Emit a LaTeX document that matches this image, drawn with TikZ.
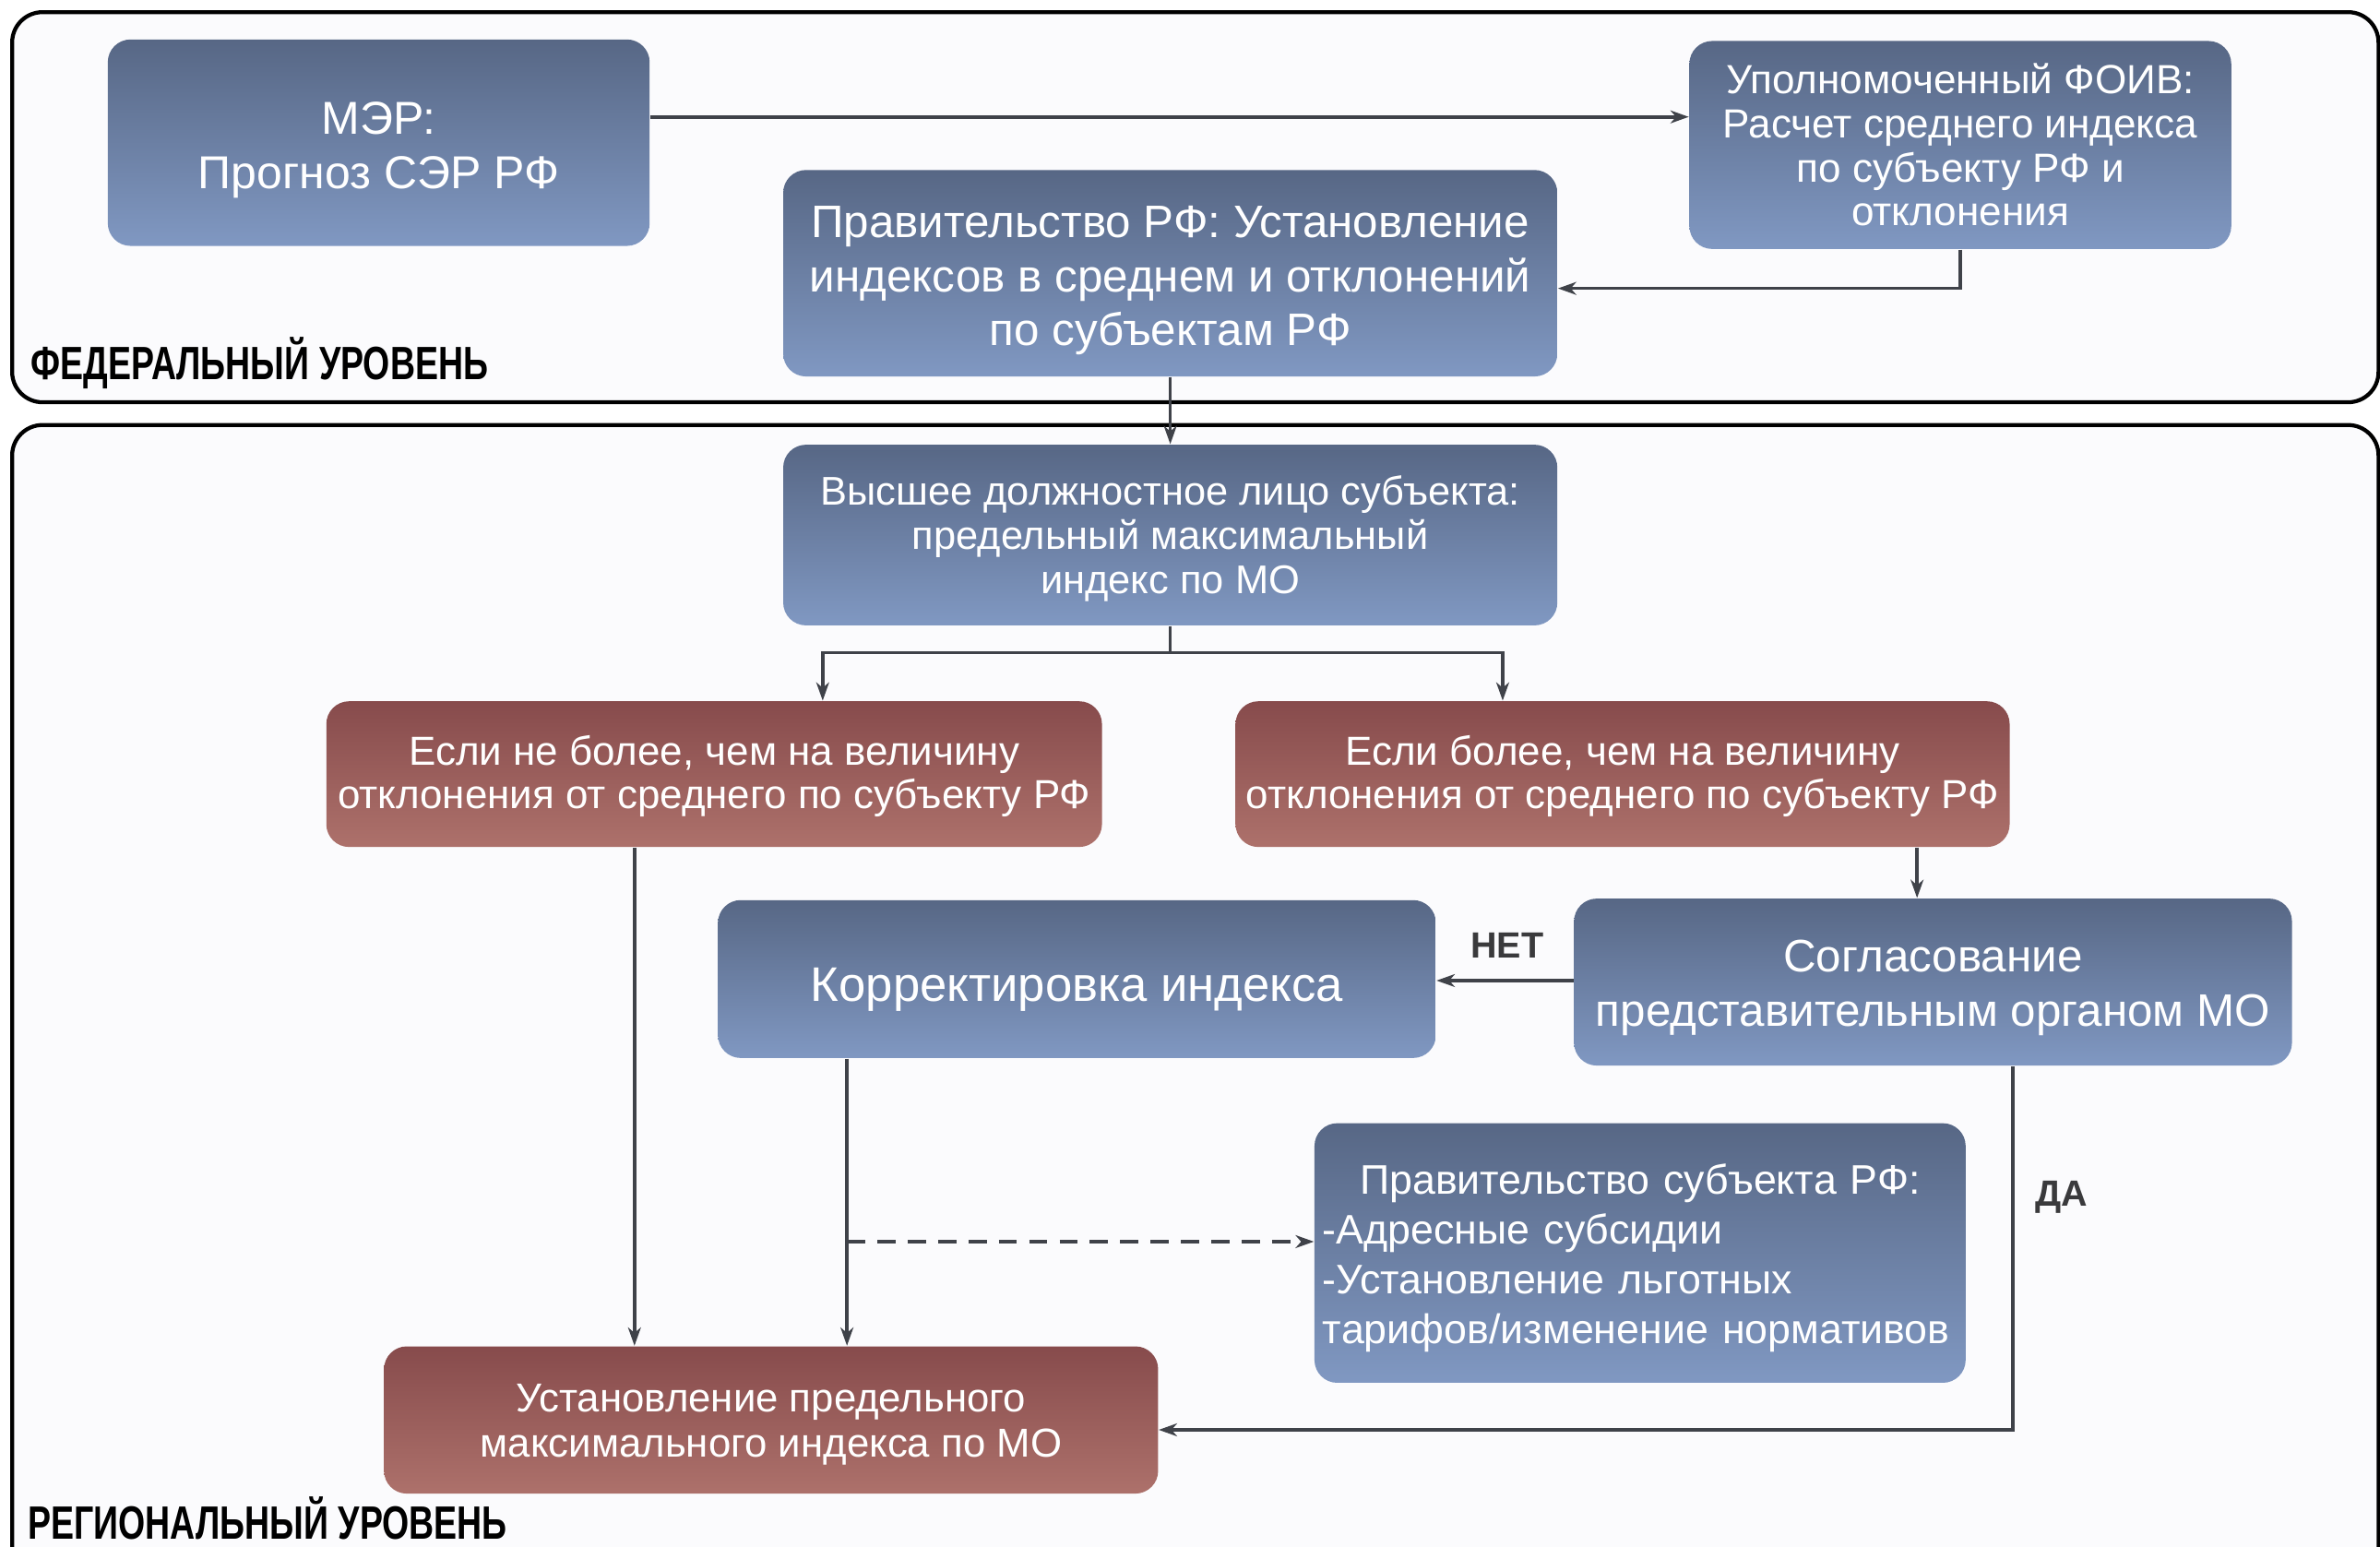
\documentclass[tikz,border=0pt]{standalone}
\usepackage{fontspec}
\setmainfont{Liberation Sans}
\newfontfamily\lvlfont[FakeStretch=0.74]{Liberation Sans}
\usetikzlibrary{arrows.meta}
\definecolor{btop}{RGB}{87,103,133}
\definecolor{bbot}{RGB}{128,152,194}
\definecolor{rtop}{RGB}{135,75,76}
\definecolor{rbot}{RGB}{173,113,107}
\definecolor{framebg}{RGB}{251,251,253}
\definecolor{lnk}{RGB}{63,66,73}
\definecolor{lbl}{RGB}{58,58,60}
% push a node's text down by half the given length
\newcommand\pushdn[1]{\raisebox{#1}{\vphantom{Н}}}
\tikzset{
  frame/.style={draw=black, line width=1.3pt, rounded corners=10pt, fill=framebg},
  bluebox/.style={rounded corners=7.5pt, top color=btop, bottom color=bbot, text=white, inner sep=0pt, align=center},
  redbox/.style={rounded corners=7.5pt, top color=rtop, bottom color=rbot, text=white, inner sep=0pt, align=center},
  arr/.style={draw=lnk, line width=1.1pt, -{Stealth[length=6pt,width=4.2pt,inset=1.8pt]}},
  lvl/.style={anchor=base west, inner sep=0pt, font=\lvlfont\bfseries\fontsize{15.4}{16}\selectfont},
  yn/.style={text=lbl, inner sep=0pt, font=\bfseries\fontsize{12}{13}\selectfont}
}
\begin{document}
\begin{tikzpicture}[x=0.5pt,y=-0.5pt]
\useasboundingbox (0,0) rectangle (1568,1019);
\fill[white] (0,0) rectangle (1568,1019);
% frames
\draw[frame] (8,8) rectangle (1567,265);
\draw[frame] (8,280) rectangle (1567,1040);
\node[lvl] (fedlbl) at (20,250) {ФЕДЕРАЛЬНЫЙ УРОВЕНЬ};
\node[lvl] (reglbl) at (18,1014) {РЕГИОНАЛЬНЫЙ УРОВЕНЬ};
% boxes
\node[bluebox, minimum width=178.5pt, minimum height=68pt, font=\fontsize{15.2}{18}\selectfont] (mer) at (249.5,94) {\pushdn{5pt}МЭР:\\Прогноз СЭР РФ};
\node[bluebox, minimum width=178.5pt, minimum height=68.5pt, font=\fontsize{13.4}{14.5}\selectfont] (foiv) at (1291.5,95.5) {Уполномоченный ФОИВ:\\Расчет среднего индекса\\по субъекту РФ и\\отклонения};
\node[bluebox, minimum width=255pt, minimum height=68pt, font=\fontsize{15}{17.75}\selectfont] (prf) at (771,180) {\pushdn{5pt}Правительство РФ: Установление\\индексов в среднем и отклонений\\по субъектам РФ};
\node[bluebox, minimum width=255pt, minimum height=59.5pt, font=\fontsize{13.2}{14.5}\selectfont] (vys) at (771,352.5) {\pushdn{3pt}Высшее должностное лицо субъекта:\\предельный максимальный\\индекс по МО};
\node[redbox, minimum width=255.5pt, minimum height=48pt, font=\fontsize{13.35}{14.5}\selectfont] (redl) at (470.5,510) {\pushdn{2pt}Если не более, чем на величину\\отклонения от среднего по субъекту РФ};
\node[redbox, minimum width=255pt, minimum height=48pt, font=\fontsize{13.35}{14.5}\selectfont] (redr) at (1069,510) {\pushdn{2pt}Если более, чем на величину\\отклонения от среднего по субъекту РФ};
\node[bluebox, minimum width=236.5pt, minimum height=52pt, font=\fontsize{16}{18}\selectfont] (kor) at (709.5,645) {\pushdn{7pt}Корректировка индекса};
\node[bluebox, minimum width=236.5pt, minimum height=55pt, font=\fontsize{15}{18}\selectfont] (sog) at (1273.5,647) {\pushdn{4pt}Согласование\\представительным органом МО};
\node[bluebox, minimum width=214.5pt, minimum height=85.5pt, text width=209pt, align=left, font=\fontsize{13.6}{16.35}\selectfont] (psub) at (1080.5,825.5) {\makebox[\linewidth]{\pushdn{4pt}Правительство субъекта РФ:}\\-Адресные субсидии\\-Установление льготных\\тарифов/изменение нормативов};
\node[redbox, minimum width=255pt, minimum height=48.5pt, font=\fontsize{13.3}{15}\selectfont] (redb) at (508,935.5) {\pushdn{3pt}Установление предельного\\максимального индекса по МО};
% helper coordinates
\coordinate (ya) at (0,77);
\coordinate (yb) at (0,190);
\coordinate (yd) at (0,430);
\coordinate (xl) at (542,0);
\coordinate (xr) at (990,0);
\coordinate (x418) at (418,0);
\coordinate (x1263) at (1263,0);
\coordinate (y646) at (0,646);
\coordinate (x558) at (558,0);
\coordinate (dstart) at (558,818);
\coordinate (x1326) at (1326,0);
\coordinate (y942) at (0,942);
% connectors
\draw[arr] (mer.east |- ya) -- (foiv.west |- ya);
\draw[arr] (foiv.south) |- (prf.east |- yb);
\draw[arr] (prf.south) -- (vys.north);
\draw[draw=lnk, line width=1.1pt] (vys.south) -- (vys.south |- yd);
\draw[arr] (vys.south |- yd) -| (redl.north -| xl);
\draw[arr] (vys.south |- yd) -| (redr.north -| xr);
\draw[arr] (redl.south -| x418) -- (redb.north -| x418);
\draw[arr] (redr.south -| x1263) -- (sog.north -| x1263);
\draw[arr] (sog.west |- y646) -- (kor.east |- y646);
\draw[arr] (kor.south -| x558) -- (redb.north -| x558);
\draw[arr, dashed, dash pattern=on 6pt off 4pt] (dstart) -- (psub.west |- dstart);
\draw[arr] (sog.south -| x1326) |- (redb.east |- y942);
\node[yn] (net) at (993,623) {НЕТ};
\node[yn] (da) at (1358,789) {ДА};
\end{tikzpicture}
\end{document}
